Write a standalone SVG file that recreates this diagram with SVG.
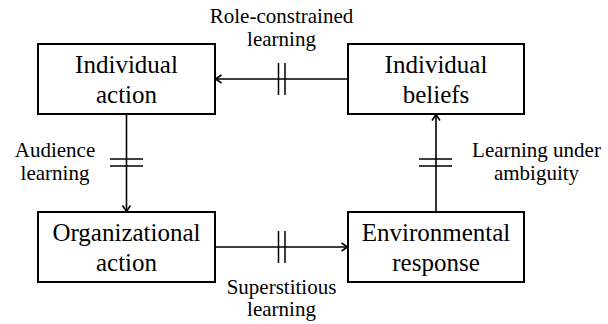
<svg xmlns="http://www.w3.org/2000/svg" width="608" height="324" viewBox="0 0 608 324">
<style>
.box{fill:#fff;stroke:#000;stroke-width:2}
.t{font-family:"Liberation Serif","Times New Roman",serif;font-size:25px;text-anchor:middle;fill:#000}
.l{font-family:"Liberation Serif","Times New Roman",serif;font-size:21px;text-anchor:middle;fill:#000}
.c{stroke:#000;stroke-width:1.6;fill:none}
.k{stroke:#000;stroke-width:1.5}
</style>
<defs>
<marker id="ah" markerUnits="userSpaceOnUse" markerWidth="12" markerHeight="12" viewBox="-8 -6 10 12" refX="0" refY="0" orient="auto">
<path d="M-6,-4 L0,0 L-6,4" fill="none" stroke="#000" stroke-width="1.6"/>
</marker>
</defs>
<rect width="608" height="324" fill="#fff"/>
<g id="connectors">
<line class="c" x1="348" y1="79" x2="215.5" y2="79" marker-end="url(#ah)"/>
<line class="k" x1="278.5" y1="63" x2="278.5" y2="95"/>
<line class="k" x1="285" y1="63" x2="285" y2="95"/>
<line class="c" x1="126.5" y1="114" x2="126.5" y2="211.5" marker-end="url(#ah)"/>
<line class="k" x1="110" y1="159" x2="143" y2="159"/>
<line class="k" x1="110" y1="166" x2="143" y2="166"/>
<line class="c" x1="215" y1="247" x2="347.5" y2="247" marker-end="url(#ah)"/>
<line class="k" x1="278.5" y1="231" x2="278.5" y2="263"/>
<line class="k" x1="285" y1="231" x2="285" y2="263"/>
<line class="c" x1="436" y1="212" x2="436" y2="114.5" marker-end="url(#ah)"/>
<line class="k" x1="419" y1="159" x2="452" y2="159"/>
<line class="k" x1="419" y1="166" x2="452" y2="166"/>
<text class="l" x="281.5" y="23">Role-constrained</text>
<text class="l" x="281.5" y="46">learning</text>
<text class="l" x="55" y="157">Audience</text>
<text class="l" x="55" y="180">learning</text>
<text class="l" x="536.5" y="157">Learning under</text>
<text class="l" x="536.5" y="180">ambiguity</text>
<text class="l" x="281.5" y="294">Superstitious</text>
<text class="l" x="281.5" y="316">learning</text>
</g>
<g id="individual-action">
<rect class="box" x="38" y="44" width="177" height="70"/>
<text class="t" x="126.5" y="73">Individual</text>
<text class="t" x="126.5" y="103">action</text>
</g>
<g id="individual-beliefs">
<rect class="box" x="348" y="44" width="176" height="70"/>
<text class="t" x="436" y="73">Individual</text>
<text class="t" x="436" y="103">beliefs</text>
</g>
<g id="organizational-action">
<rect class="box" x="38" y="212" width="177" height="70"/>
<text class="t" x="126.5" y="241">Organizational</text>
<text class="t" x="126.5" y="271">action</text>
</g>
<g id="environmental-response">
<rect class="box" x="348" y="212" width="176" height="70"/>
<text class="t" x="436" y="241">Environmental</text>
<text class="t" x="436" y="271">response</text>
</g>
</svg>
